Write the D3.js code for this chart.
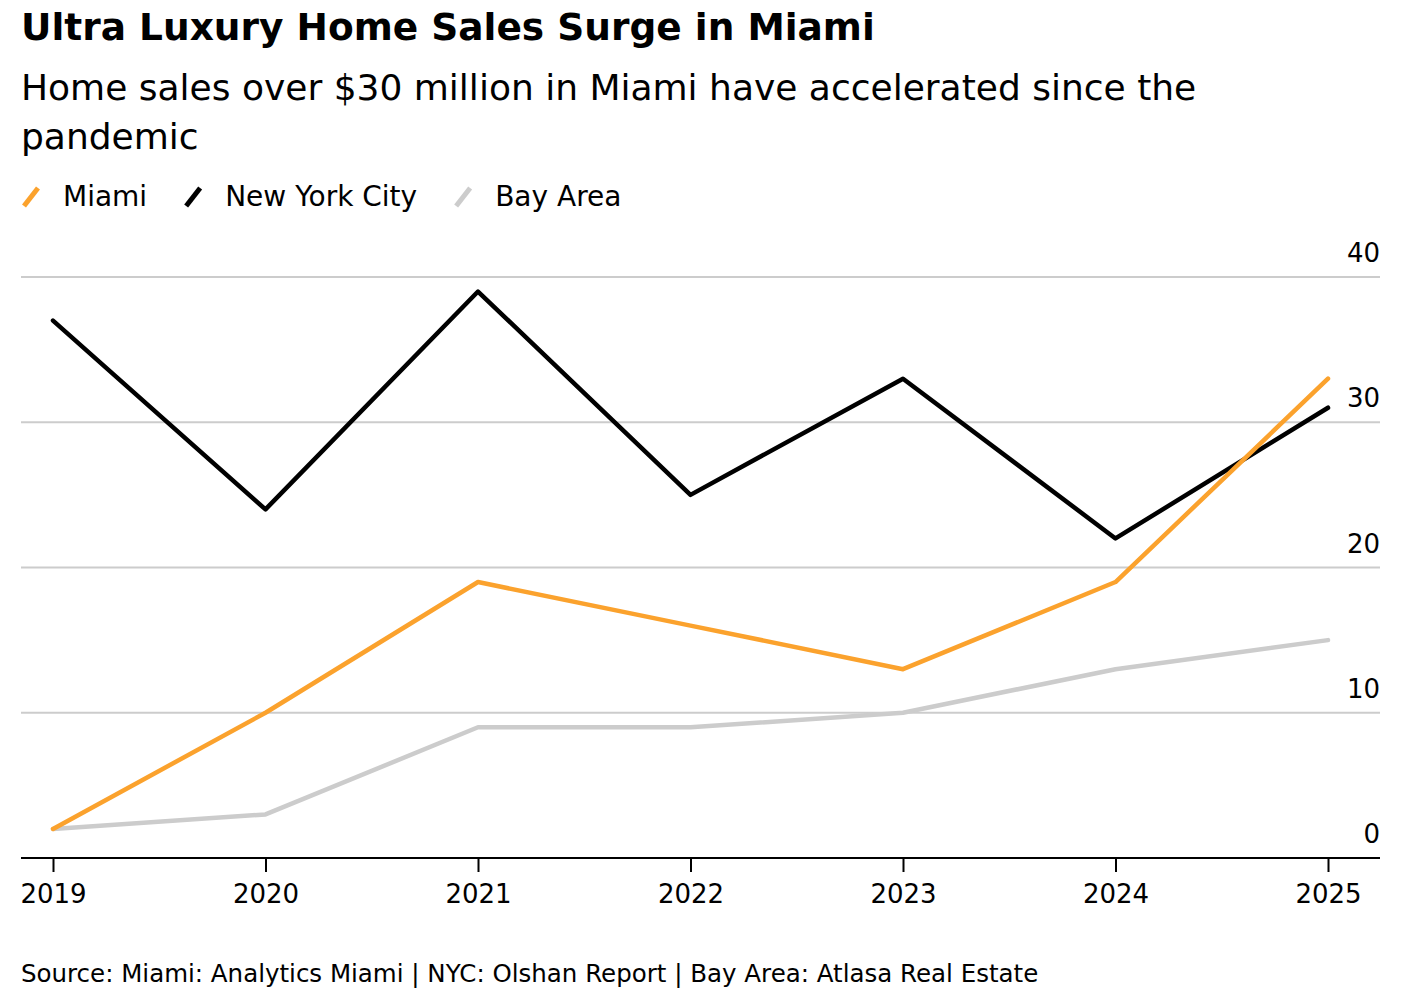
<!DOCTYPE html>
<html lang="en">
<head>
<meta charset="UTF-8">
<title>Ultra Luxury Home Sales Surge in Miami</title>
<script src="https://d3js.org/d3.v7.min.js"></script>
<style>
  body { margin: 0; background: #fff; }
  svg text { font-family: "DejaVu Sans", sans-serif; fill: #000; }
</style>
</head>
<body>
<div id="container"></div>
<script>
// data
const years = [2019, 2020, 2021, 2022, 2023, 2024, 2025];
const miami = [2, 10, 19, 16, 13, 19, 33];
const nyc = [37, 24, 39, 25, 33, 22, 31];
const bayArea = [2, 3, 9, 9, 10, 13, 15];
const yTicks = [0, 10, 20, 30, 40];

const series = [
  { name: "Miami", values: miami, color: "#fba22d" },
  { name: "New York City", values: nyc, color: "#000000" },
  { name: "Bay Area", values: bayArea, color: "#cccccc" }
];

const width = 1408, height = 996;
const left = 21, right = 1380;

const svg = d3.select("#container")
  .append("svg")
  .attr("width", width)
  .attr("height", height);

// title + subtitle
svg.append("text")
  .attr("x", left).attr("y", 40)
  .style("font-size", "37.5px").style("font-weight", "bold")
  .text("Ultra Luxury Home Sales Surge in Miami");

const sub = svg.append("text")
  .attr("x", left).attr("y", 100)
  .style("font-size", "36px");
sub.append("tspan").attr("x", left).text("Home sales over $30 million in Miami have accelerated since the");
sub.append("tspan").attr("x", left).attr("dy", 49).text("pandemic");

// legend
const legend = svg.append("g").attr("transform", "translate(0,196)");
let lx = left;
series.forEach(s => {
  legend.append("line")
    .attr("x1", lx + 3).attr("y1", 10).attr("x2", lx + 17).attr("y2", -8)
    .attr("stroke", s.color).attr("stroke-width", 5);
  const t = legend.append("text")
    .attr("x", lx + 42).attr("y", 10)
    .style("font-size", "28px")
    .text(s.name);
  lx += 42 + t.node().getComputedTextLength() + 36;
});

// scales
const x = d3.scalePoint().domain(years).range([53, 1328]);
const y = d3.scaleLinear().domain([0, 40]).range([858, 277]);

// gridlines + right labels
const grid = svg.append("g");
grid.selectAll("line")
  .data(yTicks.filter(d => d > 0))
  .join("line")
  .attr("x1", left).attr("x2", right)
  .attr("y1", d => y(d)).attr("y2", d => y(d))
  .attr("stroke", "#cccccc").attr("stroke-width", 2);
grid.selectAll("text")
  .data(yTicks)
  .join("text")
  .attr("x", right).attr("y", d => y(d) - 15)
  .attr("text-anchor", "end")
  .style("font-size", "26px")
  .text(d => d);

// x axis
const xAxis = svg.append("g")
  .attr("transform", `translate(0,${y(0)})`)
  .call(d3.axisBottom(x).tickSize(14).tickSizeOuter(0).tickFormat(d3.format("d")));
xAxis.select(".domain").remove();
xAxis.insert("line", ":first-child")
  .attr("x1", left).attr("x2", right)
  .attr("stroke", "#000").attr("stroke-width", 2);
xAxis.selectAll(".tick line").attr("stroke", "#000").attr("stroke-width", 2);
xAxis.selectAll(".tick text")
  .attr("y", 27)
  .style("font-size", "26px")
  .style("font-family", "DejaVu Sans, sans-serif")
  .attr("fill", "#000");

// lines (bay area first so it sits under)
const line = d3.line()
  .x((d, i) => x(years[i]))
  .y(d => y(d));

svg.append("g")
  .selectAll("path")
  .data(series.slice().reverse())
  .join("path")
  .attr("fill", "none")
  .attr("stroke", d => d.color)
  .attr("stroke-width", 4.5)
  .attr("stroke-linejoin", "round")
  .attr("stroke-linecap", "round")
  .attr("d", d => line(d.values));

// source
svg.append("text")
  .attr("x", left).attr("y", 982)
  .style("font-size", "24.5px")
  .text("Source: Miami: Analytics Miami | NYC: Olshan Report | Bay Area: Atlasa Real Estate");
</script>
</body>
</html>
